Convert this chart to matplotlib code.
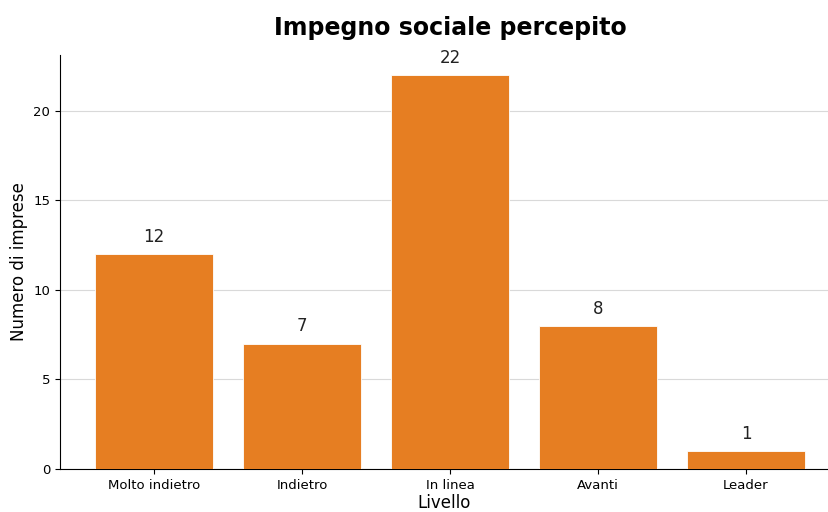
import matplotlib
matplotlib.use("Agg")
import matplotlib.pyplot as plt

categories = ["Molto indietro", "Indietro", "In linea", "Avanti", "Leader"]
values = [12, 7, 22, 8, 1]

W, H = 829, 512
fig = plt.figure(figsize=(W / 100, H / 100), dpi=100)
ax = fig.add_axes([60 / W, 43 / H, (W - 60) / W, 414 / H])

x = range(len(categories))
bars = ax.bar(x, values, width=0.8, color="#e67e22", edgecolor="white", linewidth=0.6, zorder=3)
for xi, v in zip(x, values):
    ax.text(xi, v + 0.45, str(v), ha="center", va="bottom", fontsize=12, color="#222222")

ax.set_xticks(list(x))
ax.set_xticklabels(categories, fontsize=9.5)
ax.tick_params(axis="y", labelsize=9.5)
ax.set_xlim(-0.635, 4.561)
ax.set_ylim(0, 23.1)
ax.set_yticks([0, 5, 10, 15, 20])
ax.yaxis.grid(True, color="#d9d9d9", linewidth=0.8, zorder=0)
ax.set_axisbelow(True)
for s in ["top", "right"]:
    ax.spines[s].set_visible(False)
ax.set_xlabel("Livello", fontsize=12, labelpad=2)
ax.set_ylabel("Numero di imprese", fontsize=12)
fig.text(450 / W, 1 - 28 / H, "Impegno sociale percepito", ha="center", va="center",
         fontsize=17, fontweight="bold")

fig.savefig("out.png", dpi=100)
